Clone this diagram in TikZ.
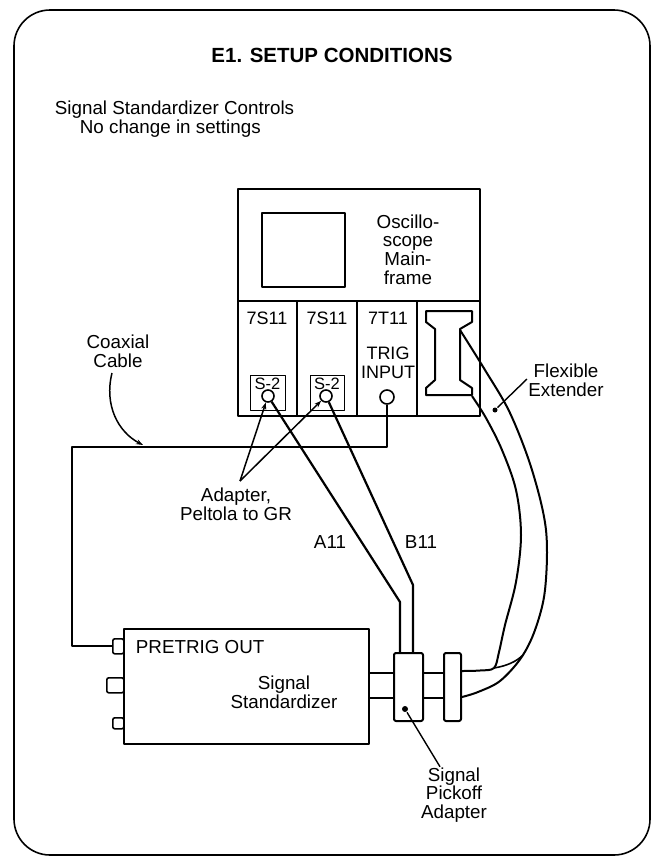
\documentclass[tikz,border=0pt]{standalone}
\usepackage{fontspec}
\setmainfont{Liberation Sans}
\usetikzlibrary{arrows.meta}
\begin{document}
\begin{tikzpicture}[x=1pt,y=-1pt, line width=1.8pt, line join=round,
  txt/.style={font=\fontsize{18.8}{18.6}\selectfont, inner sep=0pt, align=center},
  mid/.style={font=\fontsize{18}{18.5}\selectfont, inner sep=0pt, align=center},
  small/.style={font=\fontsize{16.5}{17}\selectfont, inner sep=0pt, align=center},
  box/.style={draw, inner sep=0pt, anchor=north west},
  jack/.style={draw, circle, inner sep=0pt, line width=1.6pt},
  tip/.style={-{Stealth[length=7pt,width=5pt]}},
  dot/.style={circle, fill, inner sep=0pt, minimum size=6pt}]
\useasboundingbox (0,0) rectangle (656,865);
% frame
\draw[line width=1.6pt, rounded corners=36pt] (14,10) rectangle (650,855);
% title and notes
\node[font=\bfseries\fontsize{20.5}{21}\selectfont, inner sep=0pt] (title) at (332,55) {E1. SETUP CONDITIONS};
\node[txt, anchor=west] (ctl1) at (54,110) {Signal Standardizer Controls};
\node[txt, anchor=west] (ctl2) at (79,129) {No change in settings};
% mainframe
\node[box, minimum width=242pt, minimum height=227pt] (mf) at (237,188) {};
\node[box, minimum width=83pt, minimum height=74pt, line width=1.6pt] (screen) at (261,212) {};
\node[txt] (mflbl) at (408,249.5) {Oscillo-\\scope\\Main-\\frame};
\draw[line width=1.4pt] (237,301) -- (479,301);
\draw[line width=1.4pt] (297,301) -- (297,415) (357,301) -- (357,415) (417,301) -- (417,415);
\node[mid] (p1) at (267,318) {7S11};
\node[mid] (p2) at (327,318) {7S11};
\node[mid] (p3) at (388,318) {7T11};
\node[mid] (trigl) at (388,363) {TRIG\\INPUT};
% S-2 adapters
\node[box, line width=1.4pt, minimum width=35pt, minimum height=35pt] (s2a) at (250,375) {};
\node[box, line width=1.4pt, minimum width=34pt, minimum height=35pt] (s2b) at (310,375) {};
\node[small] (s2at) at (267.5,384) {S-2};
\node[small] (s2bt) at (327,384) {S-2};
\node[jack, minimum size=12pt] (c1) at (268,396) {};
\node[jack, minimum size=12pt] (c2) at (326,396) {};
\node[jack, minimum size=14pt] (trig) at (387,397) {};
% extender plug-in
\draw[line width=2pt] (426,311) -- (472,311) -- (472,322) -- (460,329) -- (460,380) -- (472,388) -- (472,395)
  -- (426,395) -- (426,388) -- (435,380) -- (435,329) -- (426,322) -- cycle;
\coordinate (ext1) at (460,330);
\coordinate (ext2) at (472,396);
% signal standardizer
\node[box, line width=2.2pt, minimum width=245pt, minimum height=115pt] (std) at (123,628) {};
\node[txt, anchor=west] (pretrig) at (135,647) {PRETRIG OUT};
\node[txt] (stdl) at (284,692) {Signal\\Standardizer};
\node[box, line width=1.6pt, rounded corners=2pt, minimum width=11pt, minimum height=15pt] (con1) at (112,638) {};
\node[box, line width=1.6pt, rounded corners=2pt, minimum width=17pt, minimum height=15pt] (con2) at (106,677) {};
\node[box, line width=1.6pt, rounded corners=2pt, minimum width=11pt, minimum height=11pt] (con3) at (112,717) {};
% pickoff adapter and end disc
\node[box, line width=2pt, rounded corners=2pt, minimum width=29pt, minimum height=68pt] (pk) at (393,652) {};
\node[box, line width=2pt, rounded corners=2pt, minimum width=17pt, minimum height=68pt] (disc) at (443,652) {};
\node[dot] (pkdot) at (405,709) {};
\draw (std.east |- 0,673) -- (pk.west |- 0,673) (std.east |- 0,698) -- (pk.west |- 0,698);
\draw (pk.east |- 0,673) -- (disc.west |- 0,673) (pk.east |- 0,698) -- (disc.west |- 0,698);
\node[txt] (pkl) at (454,795) {Signal\\Pickoff\\Adapter};
\draw[line width=1.4pt] (pkdot) -- (pkl.north -| 440,0);
% A11 / B11 cables
\coordinate (a11b) at (400,602);
\coordinate (b11b) at (413,585);
\draw[line width=2.2pt] (c1) -- (a11b) -- (a11b |- pk.north);
\draw[line width=2.2pt] (c2) -- (b11b) -- (b11b |- pk.north);
\node[txt] (a11) at (330,542) {A11};
\node[txt] (b11) at (421,542) {B11};
% adapter callout
\coordinate (adtip) at (240,481);
\draw[tip, line width=1.5pt] (adtip) -- (c1);
\draw[tip, line width=1.5pt] (adtip) -- (c2);
\node[txt] (adl) at (236,504) {Adapter,\\Peltola to GR};
% coaxial cable
\coordinate (cx1) at (72,447);
\draw (trig) -- (trig |- cx1) -- (cx1) |- (con1.west);
\node[txt] (coaxl) at (118,351) {Coaxial\\Cable};
\draw[tip, line width=1.5pt] (112,373) .. controls (104,405) and (118,432) .. (143,445);
% flexible extender cables
\draw[line width=2pt] plot[smooth, tension=0.55] coordinates {(ext1) (485,370) (510,413) (532,470) (546,530) (545,590) (535,630) (521,658) (500,681) (478,692) (disc.east |- 0,697)};
\draw[line width=2pt] plot[smooth, tension=0.55] coordinates {(ext2) (486,418) (502,450) (516,490) (521,535) (516,582) (505,625) (499,652) (494,668) (480,670.5) (disc.east |- 0,671)};
\draw[line width=1.6pt] (494,668) .. controls (506,666) and (516,662) .. (523,655);
\node[txt] (flexl) at (566,380.5) {Flexible\\Extender};
\node[dot, minimum size=5pt] (flexdot) at (495,410) {};
\draw[line width=1.4pt] (flexdot) -- (527,379);
\end{tikzpicture}
\end{document}
